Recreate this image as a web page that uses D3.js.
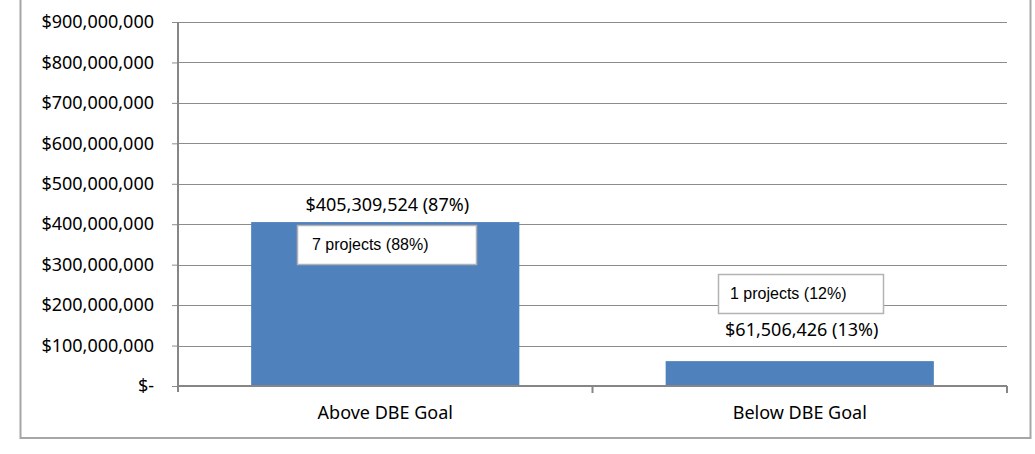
<!DOCTYPE html>
<html>
<head>
<meta charset="utf-8">
<script src="https://cdn.jsdelivr.net/npm/d3@7"></script>
<style>
	body { margin: 0; background: #fff; }
	svg { display: block; }
	.tick-label, .cat-label, .val-label { font-family: "Noto Sans", "Open Sans", sans-serif; font-size: 18px; fill: #000; }
	.box-label { font-family: "Liberation Sans", Arial, sans-serif; font-size: 16px; fill: #000; }
</style>
</head>
<body>
<div id="chart"></div>
<script>
// Chart data
var categories = ['Above DBE Goal', 'Below DBE Goal'];
var amounts = [405309524, 61506426];
var amountPct = ['87%', '13%'];
var projectCounts = [7, 1];
var projectPct = ['88%', '12%'];
var yTicks = [0, 100000000, 200000000, 300000000, 400000000, 500000000,
	600000000, 700000000, 800000000, 900000000];

var width = 1035,
	height = 454,
	plot = { left: 178, right: 1007, top: 22, bottom: 386 };

var svg = d3.select('#chart').append('svg')
	.attr('width', width)
	.attr('height', height);

// Outer frame
svg.append('rect')
	.attr('x', 20.5).attr('y', -5)
	.attr('width', 1010).attr('height', 443)
	.attr('fill', 'none')
	.attr('stroke', '#a6a6a6')
	.attr('stroke-width', 2);

var yScale = d3.scaleLinear()
	.domain([0, 900000000])
	.range([plot.bottom, plot.top]);

var xScale = d3.scaleBand()
	.domain(categories)
	.range([plot.left, plot.right])
	.padding(0);

var fmtMoney = function(v) {
	return v === 0 ? '$-' : '$' + d3.format(',')(v);
};

// Gridlines
svg.append('g').selectAll('line')
	.data(yTicks.filter(function(d) { return d > 0; }))
	.enter().append('line')
	.attr('x1', plot.left).attr('x2', plot.right)
	.attr('y1', function(d) { return Math.round(yScale(d)) + 0.5; })
	.attr('y2', function(d) { return Math.round(yScale(d)) + 0.5; })
	.attr('stroke', '#8c8c8c')
	.attr('stroke-width', 1);

// y-axis
var yAxis = d3.axisLeft(yScale)
	.tickValues(yTicks)
	.tickSize(6)
	.tickPadding(18)
	.tickFormat(fmtMoney);

var gY = svg.append('g')
	.attr('transform', 'translate(' + plot.left + ',0)')
	.call(yAxis);
gY.select('.domain').remove();
gY.selectAll('.tick line').attr('stroke', '#8c8c8c');
gY.selectAll('.tick text')
	.attr('class', 'tick-label')
	.style('font-family', null).style('font-size', null);
gY.attr('font-family', null).attr('font-size', null);

// Bars
var barW = xScale.bandwidth() * 0.647;
svg.append('g').selectAll('rect')
	.data(amounts)
	.enter().append('rect')
	.attr('x', function(d, i) { return xScale(categories[i]) + (xScale.bandwidth() - barW) / 2; })
	.attr('y', function(d) { return yScale(d); })
	.attr('width', barW)
	.attr('height', function(d) { return yScale(0) - yScale(d); })
	.attr('fill', '#4f81bd');

// Axis lines
svg.append('line')
	.attr('x1', plot.left).attr('x2', plot.left)
	.attr('y1', plot.top).attr('y2', plot.bottom + 6)
	.attr('stroke', '#868686').attr('stroke-width', 2);

var xAxis = d3.axisBottom(xScale).tickSize(0).tickPadding(20);
var gX = svg.append('g')
	.attr('transform', 'translate(0,' + plot.bottom + ')')
	.call(xAxis);
gX.select('.domain').attr('stroke', '#868686').attr('stroke-width', 2)
	.attr('d', 'M' + plot.left + ',0H' + plot.right);
gX.selectAll('.tick text').attr('class', 'cat-label');
gX.attr('font-family', null).attr('font-size', null);

// category separators
var seps = [plot.left + xScale.bandwidth(), plot.right];
svg.append('g').selectAll('line')
	.data(seps)
	.enter().append('line')
	.attr('x1', function(d) { return d; }).attr('x2', function(d) { return d; })
	.attr('y1', plot.bottom).attr('y2', plot.bottom + 7)
	.attr('stroke', '#868686').attr('stroke-width', 2);

// Value labels
var valDy = [-11, -25];
svg.append('g').selectAll('text')
	.data(amounts)
	.enter().append('text')
	.attr('class', 'val-label')
	.attr('text-anchor', 'middle')
	.attr('x', function(d, i) { return xScale(categories[i]) + xScale.bandwidth() / 2 + 2; })
	.attr('y', function(d, i) { return yScale(d) + valDy[i]; })
	.text(function(d, i) { return fmtMoney(d) + ' (' + amountPct[i] + ')'; });

// Project count boxes
var boxTop = [3, -87],
	boxW = [179, 165],
	boxH = 39;
var gBox = svg.append('g').selectAll('g')
	.data(projectCounts)
	.enter().append('g')
	.attr('transform', function(d, i) {
		var cx = xScale(categories[i]) + xScale.bandwidth() / 2 + 1;
		return 'translate(' + Math.round(cx - boxW[i] / 2) + ',' + Math.round(yScale(amounts[i]) + boxTop[i]) + ')';
	});
gBox.append('rect')
	.attr('x', 0.5).attr('y', 0.5)
	.attr('width', function(d, i) { return boxW[i]; })
	.attr('height', boxH)
	.attr('fill', '#fff')
	.attr('stroke', '#b3b3b3')
	.attr('stroke-width', 1.5);
gBox.append('text')
	.attr('class', 'box-label')
	.attr('x', function(d, i) { return i === 0 ? 15 : 12; })
	.attr('y', 25)
	.text(function(d, i) { return d + ' projects (' + projectPct[i] + ')'; });
</script>
</body>
</html>
